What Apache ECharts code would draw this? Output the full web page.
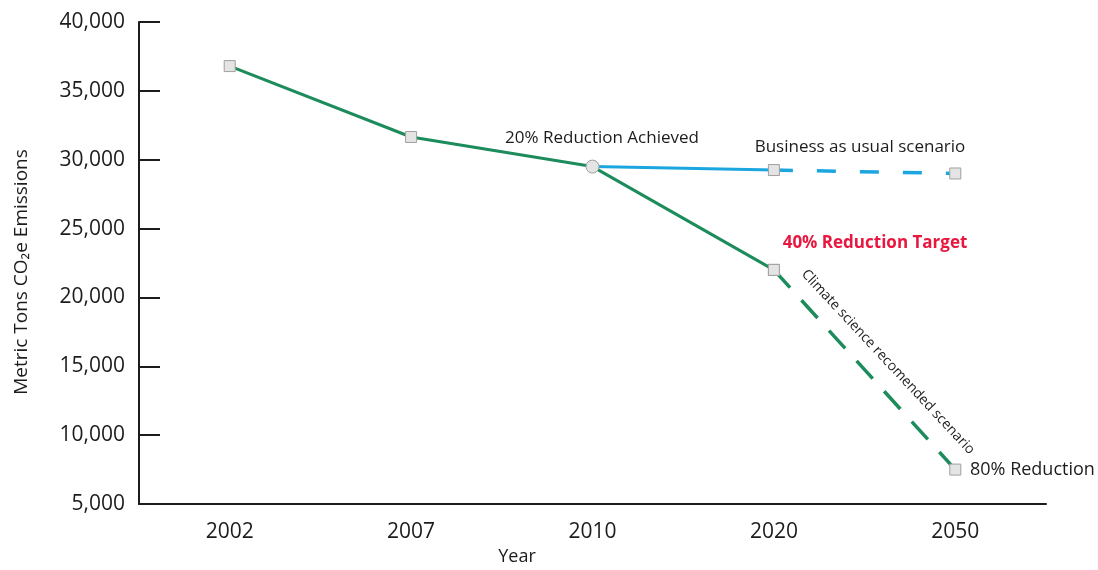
<!DOCTYPE html>
<html><head><meta charset="utf-8">
<script src="https://cdn.jsdelivr.net/npm/echarts@6/dist/echarts.min.js"></script>
<style>html,body{margin:0;padding:0;background:#fff}#c{width:1098px;height:570px}</style>
</head><body><div id="c"></div>
<script>
const years = ['2002', '2007', '2010', '2020', '2050'];
const actual = [36800, 31650, 29500, 22000, null];
const scienceTarget = [null, null, null, 22000, 7500];
const bauSolid = [null, null, 29500, 29250, null];
const bauDashed = [null, null, null, 29250, 29000];
const yTicks = [5000, 10000, 15000, 20000, 25000, 30000, 35000, 40000];

const FONT = '"Open Sans", "Noto Sans", sans-serif';
const GREEN = '#1d8c5c';
const BLUE = '#1ba6e0';
const INK = '#1c1c1c';
const marker = {color: '#e4e4e4', borderColor: '#a0a0a0', borderWidth: 1};

const chart = echarts.init(document.getElementById('c'));
chart.setOption({
  animation: false,
  grid: {left: 139, right: 52, top: 22, bottom: 66, containLabel: false},
  xAxis: {
    type: 'category', data: years, boundaryGap: true,
    axisLine: {lineStyle: {color: INK, width: 2}},
    axisTick: {inside: true, alignWithLabel: true, length: 11, lineStyle: {color: INK, width: 2}},
    axisLabel: {color: INK, fontFamily: FONT, fontSize: 21, margin: 18},
    splitLine: {show: false}
  },
  yAxis: {
    type: 'value', min: yTicks[0], max: yTicks[yTicks.length - 1], interval: 5000,
    axisLine: {show: true, lineStyle: {color: INK, width: 2}},
    axisTick: {show: true, inside: true, length: 21, lineStyle: {color: INK, width: 2}},
    axisLabel: {color: INK, fontFamily: FONT, fontSize: 21, margin: 14,
      formatter: v => v.toLocaleString('en-US')},
    splitLine: {show: false}
  },
  series: [
    {type: 'line', data: bauSolid, connectNulls: false, symbol: 'none',
      lineStyle: {color: BLUE, width: 3}, z: 2},
    {type: 'line', data: bauDashed, symbol: 'rect', symbolSize: 11, showSymbol: true,
      itemStyle: marker, lineStyle: {color: BLUE, width: 3.5, type: [19, 24]}, z: 2},
    {type: 'line', data: scienceTarget, symbol: 'rect', symbolSize: 11,
      itemStyle: marker, lineStyle: {color: GREEN, width: 3.5, type: [24, 17]}, z: 3},
    {type: 'line', data: actual,
      symbol: (v, p) => p.dataIndex === 2 ? 'circle' : 'rect',
      symbolSize: (v, p) => p.dataIndex === 2 ? 13 : 11,
      itemStyle: marker, lineStyle: {color: GREEN, width: 3}, z: 4}
  ],
  graphic: [
    {type: 'text', x: 22, y: 272, rotation: Math.PI / 2,
      style: {text: 'Metric Tons CO\u2082e Emissions', font: '19px ' + FONT, fill: INK,
        align: 'center', verticalAlign: 'middle'}},
    {type: 'text', x: 517, y: 557,
      style: {text: 'Year', font: '18px ' + FONT, fill: INK, align: 'center', verticalAlign: 'middle'}},
    {type: 'text', x: 602, y: 138,
      style: {text: '20% Reduction Achieved', font: '17px ' + FONT, fill: INK, align: 'center', verticalAlign: 'middle'}},
    {type: 'text', x: 860, y: 147,
      style: {text: 'Business as usual scenario', font: '17px ' + FONT, fill: INK, align: 'center', verticalAlign: 'middle'}},
    {type: 'text', x: 875, y: 243,
      style: {text: '40% Reduction Target', font: 'bold 17px ' + FONT, fill: '#e8173f', align: 'center', verticalAlign: 'middle'}},
    {type: 'text', x: 888, y: 362, rotation: -0.82,
      style: {text: 'Climate science recomended scenario', font: '14px ' + FONT, fill: INK, align: 'center', verticalAlign: 'middle'}},
    {type: 'text', x: 970, y: 470,
      style: {text: '80% Reduction', font: '18px ' + FONT, fill: INK, align: 'left', verticalAlign: 'middle'}}
  ]
});
</script></body></html>
